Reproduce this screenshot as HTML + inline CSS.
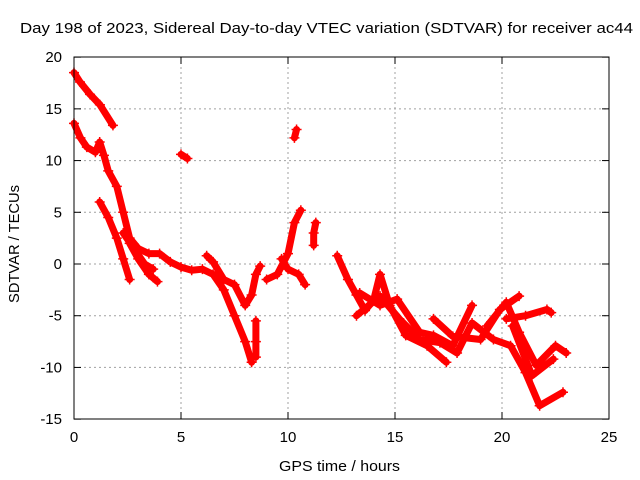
<!DOCTYPE html>
<html><head><meta charset="utf-8"><style>
body{margin:0;background:#fff}
svg{display:block;font-family:"Liberation Sans",sans-serif}
</style></head><body>
<svg id="chart" width="640" height="480">
<rect width="640" height="480" fill="#fff"/>
<text x="20" y="33" font-size="15" textLength="613" lengthAdjust="spacingAndGlyphs">Day 198 of 2023, Sidereal Day-to-day VTEC variation (SDTVAR) for receiver ac44</text>
<text x="279" y="471" font-size="15" textLength="121" lengthAdjust="spacingAndGlyphs">GPS time / hours</text>
<text transform="translate(19,303) rotate(-90)" font-size="15" textLength="118" lengthAdjust="spacingAndGlyphs">SDTVAR / TECUs</text>
<g id="grid"></g><g id="ticks"></g><g id="marks"></g>
<rect x="74" y="57" width="535" height="362" fill="none" stroke="#000" stroke-width="1"/>
</svg>
<script>
const xTicks=[0,5,10,15,20,25];
const yTicks=[-15,-10,-5,0,5,10,15,20];
const track1=[[0,18.5],[0.28,17.6],[0.75,16.4],[1.21,15.4],[1.82,13.4]];
const track2=[[0,13.6],[0.3,12.2],[0.6,11.3],[1.0,10.8],[1.2,11.8],[1.4,10.5],[1.6,9.0],[2.0,7.5],[2.3,5.0],[2.6,2.5],[3.0,1.5],[3.5,1.0],[4.0,1.0],[4.5,0.2],[5.0,-0.3],[5.5,-0.6],[6.0,-0.5],[6.5,-1.0],[7.0,-2.5],[7.5,-5.0],[8.0,-7.5],[8.3,-9.5]];
const track3=[[1.2,6.0],[1.6,4.5],[2.0,2.5],[2.3,0.5],[2.6,-1.5]];
const track4=[[2.3,3.0],[2.8,1.5],[3.3,0.0],[3.7,-0.5]];
const track5=[[2.6,2.0],[3.0,0.5],[3.5,-1.0],[3.9,-1.7]];
const track6=[[5.0,10.6],[5.3,10.2]];
const track7=[[6.2,0.8],[6.5,0.2],[7.0,-1.5],[7.5,-2.0],[8.0,-4.0],[8.3,-3.0],[8.5,-1.0],[8.7,-0.2]];
const track8=[[8.5,-5.5],[8.5,-7.5],[8.5,-9.0]];
const track9=[[9.0,-1.5],[9.5,-1.0],[10.0,1.0],[10.3,4.0],[10.6,5.2]];
const track10=[[9.7,0.5],[10.0,-0.5],[10.5,-1.0],[10.8,-2.0]];
const track11=[[10.3,12.2],[10.4,13.0]];
const track12=[[11.2,1.8],[11.2,3.0],[11.3,4.0]];
const track13=[[12.3,0.8],[12.8,-1.5],[13.2,-3.0],[13.6,-4.5],[14.0,-3.5],[14.3,-1.0],[14.75,-4.0],[15.5,-6.9],[16.5,-7.9],[17.4,-9.5]];
const track14=[[13.35,-2.8],[14.3,-4.0],[15.1,-3.4],[16.15,-6.6],[16.8,-6.9],[17.7,-7.9],[18.6,-4.0]];
const track15=[[13.2,-5.0],[14.3,-3.1],[15.2,-5.3],[16.15,-7.3],[17.1,-7.6],[17.9,-8.6],[18.6,-5.7],[19.6,-7.3],[20.4,-7.9],[21.1,-10.5],[21.76,-13.7],[22.85,-12.4]];
const track16=[[16.8,-5.3],[17.7,-7.0],[19.0,-7.3],[19.9,-4.4],[20.8,-3.1]];
const track17=[[19.3,-6.0],[20.2,-3.7],[20.8,-6.6],[21.6,-9.8],[22.5,-7.9],[23.0,-8.6]];
const track18=[[20.2,-5.3],[21.1,-5.0],[22.1,-4.4],[22.3,-4.7]];
const track19=[[20.5,-6.0],[21.4,-10.8],[22.4,-9.2]];
const tracks=[track1,track2,track3,track4,track5,track6,track7,track8,track9,track10,track11,track12,track13,track14,track15,track16,track17,track18,track19];

const X=h=>74+h*(535/25);
const Y=v=>264-v*(362/35);
const NS="http://www.w3.org/2000/svg";
function mk(tag,attrs,parent){const e=document.createElementNS(NS,tag);for(const k in attrs)e.setAttribute(k,attrs[k]);parent.appendChild(e);return e;}
const grid=document.getElementById('grid'),ticks=document.getElementById('ticks'),marks=document.getElementById('marks');
xTicks.forEach(t=>{
  const x=X(t);
  if(t>0&&t<25){const g=mk('line',{x1:x,x2:x,y1:57,y2:419,stroke:'#a0a0a0','stroke-dasharray':'2,3'},grid);
  
  }
  mk('line',{x1:x,x2:x,y1:419,y2:412,stroke:'#000'},ticks);
  mk('line',{x1:x,x2:x,y1:57,y2:64,stroke:'#000'},ticks);
  const l=mk('text',{x:x,y:442,'text-anchor':'middle','font-size':15},ticks);l.textContent=t;
  
  
});
yTicks.forEach(t=>{
  const y=Y(t);
  if(t>-15&&t<20){const g=mk('line',{x1:74,x2:609,y1:y,y2:y,stroke:'#a0a0a0','stroke-dasharray':'2,3'},grid);
  
  }
  mk('line',{x1:74,x2:81,y1:y,y2:y,stroke:'#000'},ticks);
  mk('line',{x1:609,x2:602,y1:y,y2:y,stroke:'#000'},ticks);
  const l=mk('text',{x:62,y:y+5,'text-anchor':'end','font-size':15},ticks);l.textContent=t;
  
  
});
tracks.forEach((tr,i)=>{
  const p=mk('polyline',{points:tr.map(d=>X(d[0])+','+Y(d[1])).join(' '),fill:'none',stroke:'#ff0000','stroke-width':7,'stroke-linejoin':'round','stroke-linecap':'round'},marks);
  
  
  tr.forEach(d=>{
    const x=X(d[0]),y=Y(d[1]);
    const m=mk('path',{d:`M${x-5},${y}h10M${x},${y-5}v10`,stroke:'#ff0000','stroke-width':1.5},marks);
    
    
  });
});
</script>
</body></html>
